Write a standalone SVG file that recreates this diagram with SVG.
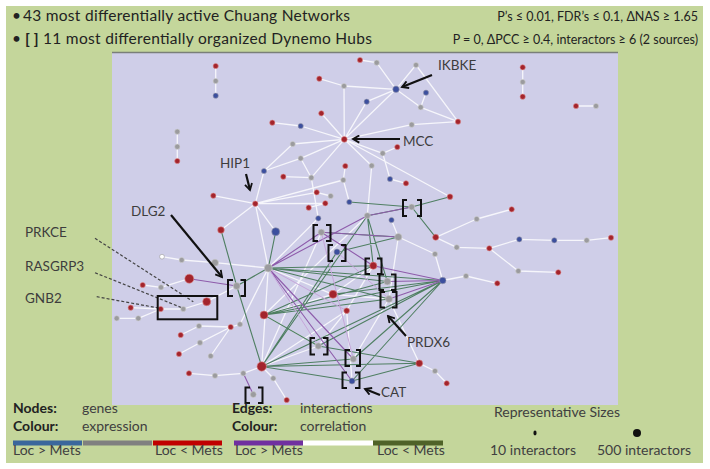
<svg xmlns="http://www.w3.org/2000/svg" width="710" height="469" viewBox="0 0 710 469">
<style>
text{font-family:Lato,"Liberation Sans",sans-serif;fill:#333}
.hd{font-size:15.5px;fill:#222}
.hs{font-size:12.5px;fill:#222}
.lb{font-size:13.5px;fill:#3d3d3d}
.lg{font-size:14px;fill:#404040}
.bd{font-weight:bold;fill:#222}
.w{stroke:#f6f6fb;stroke-width:1.3;fill:none}
.gr{stroke:#4f7f62;stroke-width:1.1;fill:none}
.p{stroke:#8e5cab;stroke-width:1.1;fill:none}
.lp{stroke:#c6a6da;stroke-width:1;fill:none}
.r{fill:#a3242c;stroke:#d88;stroke-width:0.6}
.g{fill:#9b9b9e;stroke:#ccc;stroke-width:0.6}
.b{fill:#3c4f9e;stroke:#99a;stroke-width:0.6}
.wn{fill:#fff;stroke:#999;stroke-width:0.6}
.br{stroke:#111;stroke-width:2;fill:none}
.ar{stroke:#111;stroke-width:2.2;fill:none;marker-end:url(#ah)}
.ds{stroke:#444;stroke-width:1.2;stroke-dasharray:3 2;fill:none}
</style>
<defs>
<marker id="ah" viewBox="0 0 10 10" refX="8" refY="5" markerWidth="9" markerHeight="9" markerUnits="userSpaceOnUse" orient="auto">
<path d="M1,1 L8,5 L1,9" stroke="#111" stroke-width="2" fill="none"/>
</marker>
</defs>
<rect x="0" y="0" width="710" height="469" fill="#fff"/>
<rect x="6" y="6" width="697" height="457" fill="#c4d69b"/>
<rect x="112" y="52" width="506" height="353" fill="#cfcee8"/>
<line x1="112" y1="52.5" x2="618" y2="52.5" stroke="#7a7f78" stroke-width="1.6"/>

<g id="header">
<text class="hd" x="12" y="21">•</text>
<text class="hd" x="23" y="21" textLength="327">43 most differentially active Chuang Networks</text>
<text class="hd" x="12" y="44">•</text>
<text class="hd bd" x="25" y="44">[ ]</text>
<text class="hd" x="43" y="44" textLength="329">11 most differentially organized Dynemo Hubs</text>
<text class="hs" x="698" y="21" text-anchor="end">P’s ≤ 0.01,  FDR’s ≤ 0.1, ΔNAS ≥ 1.65</text>
<text class="hs" x="698" y="44" text-anchor="end">P = 0, ΔPCC ≥ 0.4, interactors ≥ 6 (2 sources)</text>
</g>

<g id="connectors">
<path class="w" d="M215.7,66L215.7,95.7M177.3,131.7L177.3,161M522.7,67.3L522.7,96.7M576,106L596,106"/>
<path class="w" d="M360,60L376.7,62.7M376.7,62.7L396,89.3M416,65L396,89.3M416,65L458,121.7M396,89.3L420.7,107.3M426,92.7L420.7,107.3M420.7,107.3L458,121.7M411.7,124.7L458,121.7M411.7,124.7L344.3,139.3"/>
<path class="w" d="M319.3,78.7L344,86M344,86L396,89.3M366.7,101.7L396,89.3M344.3,139.3L344,86M344.3,139.3L396,89.3M344.3,139.3L366.7,101.7M344.3,139.3L321.3,113.3M344.3,139.3L300.7,126M300.7,126L272.3,122.7M344.3,139.3L292.7,144M292.7,144L264,171M344.3,139.3L300.7,158.3M300.7,158.3L264,171M264,171L255.3,203.7"/>
<path class="w" d="M283.3,176.7L311.3,177.7M311.3,177.7L344.3,139.3M311.3,177.7L318.3,218.3M345.3,166L343.3,180M343.3,180L349.3,202M344.3,139.3L371.7,165.7M371.7,165.7L367.3,215.7M344.3,139.3L382.7,153.3M382.7,153.3L397.3,147M344.3,139.3L450,196.7M390,179L406,183.3M382.7,153.3L390,179"/>
<path class="w" d="M255.3,203.7L213.3,195.7M255.3,203.7L343.3,180M255.3,203.7L316.7,192.3M255.3,203.7L325.3,203.3M316.7,192.3L330.7,196M308.7,207.7L325.3,203.3M255.3,203.7L221,230M255.3,203.7L275.7,231.7M255.3,203.7L268.3,268M300.7,158.3L311.3,177.7"/>
<path class="w" d="M511.7,209.3L476.7,219M476.7,219L435.7,237.3M435.7,237.3L456.7,247.3M456.7,247.3L489.3,248.3M489.3,248.3L519.3,239.3M519.3,239.3L554.3,240.3M554.3,240.3L586.7,240.3M586.7,240.3L611,237.7M489.3,248.3L518.3,271M518.3,271L558.3,272.3M398.3,237L435,254M435,254L442.7,280.5M442.7,280.5L466,276M466,276L497.3,283.3M389,299L419.3,363.3M419.3,363.3L435,371M435,371L446.7,383.3"/>
<path class="w" d="M162,256.7L181.7,260M181.7,260L215,262.7M215,262.7L268.3,268M142.7,285L161,287.3M161,287.3L189.3,278.7M130.7,307.7L160.7,309M116.7,318.3L138.3,318.3M138.3,318.3L160.7,309M160.7,309L183.3,309M183.3,309L206.7,301.7M206.7,301.7L236.7,286M180.7,335L199,326M199,326L230.7,327M230.7,327L240,324.3M230.7,327L200,342.7M200,342.7L179,354M230.7,327L210.7,356M189,373.3L215,375.7M215,375.7L243.3,373.3M243.3,373.3L261.7,366.5M240,324.3L268.3,268M261.7,366.5L273.3,378.3M273.3,378.3L286.7,400"/>
<path class="w" d="M261.7,366.5L268.3,268M268.3,268L333,294.3M264,315L333,294.3M333,294.3L373.3,265.7M346.7,310.7L373.3,265.7M261.7,366.5L346.7,310.7M333,294.3L389,299M318.3,346L346.7,310.7M352,381L346.7,310.7M318.3,218.3L268.3,268M391.5,220L398.3,237M398.3,237L389,299M261.7,366.5L321.3,232.3M264,315L367.3,215.7M353.3,359L389,299M264,315L318.3,346M261.7,366.5L318.3,346"/>
<path class="gr" d="M221,230L236.7,286M236.7,286L261.7,366.5M236.7,286L268.3,268M268.3,268L275.7,231.7M268.3,268L373.3,265.7M268.3,268L387.3,281.5M268.3,268L442.7,280.5M268.3,268L389,299M349.3,202L411.7,207M450,196.7L411.7,207M411.7,207L435.7,237.3M337,252L398.3,237M367.3,215.7L261.7,366.5M367.3,215.7L373.3,265.7M264,315L373.3,265.7M264,315L387.3,281.5M264,315L442.7,280.5M264,315L318.3,346M261.7,366.5L352,381M261.7,366.5L353.3,359M261.7,366.5L419.3,363.3M261.7,366.5L337,252M318.3,346L419.3,363.3M352,381L419.3,363.3M442.7,280.5L261.7,366.5M442.7,280.5L318.3,346M442.7,280.5L353.3,359M442.7,280.5L352,381M442.7,280.5L333,294.3M389,299L264,315M367.3,215.7L387.3,281.5M321.3,232.3L398.3,237M411.7,207L367.3,215.7"/>
<path class="p" d="M236.7,286L189.3,278.7M268.3,268L367.3,215.7M268.3,268L321.3,232.3M321.3,232.3L398.3,237M321.3,232.3L373.3,265.7M268.3,268L352,381M268.3,268L353.3,359M442.7,280.5L373.3,265.7M442.7,280.5L387.3,281.5M442.7,280.5L389,299M243.3,373.3L253.3,394.5M367.3,215.7L411.7,207"/>
<path class="lp" d="M268.3,268L318.3,346M268.3,268L346.7,310.7M321.3,232.3L353.3,359M337,252L389,299"/>
<path class="ds" d="M95,238.3L193.3,301.7M95,272.7L183.3,308.3M96.7,296.7L160,308.3"/>
</g>

<g id="nodes">
<g id="n1"><circle class="r" cx="215.7" cy="66" r="2.6"/></g>
<g id="n2"><circle class="g" cx="215.7" cy="81" r="2.6"/></g>
<g id="n3"><circle class="b" cx="215.7" cy="95.7" r="2.6"/></g>
<g id="n4"><circle class="g" cx="177.3" cy="131.7" r="2.6"/></g>
<g id="n5"><circle class="g" cx="177.3" cy="146.7" r="2.6"/></g>
<g id="n6"><circle class="r" cx="177.3" cy="161" r="2.6"/></g>
<g id="n7"><circle class="r" cx="522.7" cy="67.3" r="2.6"/></g>
<g id="n8"><circle class="g" cx="522.7" cy="82" r="2.6"/></g>
<g id="n9"><circle class="r" cx="522.7" cy="96.7" r="2.6"/></g>
<g id="n10"><circle class="r" cx="576" cy="106" r="2.6"/></g>
<g id="n11"><circle class="g" cx="596" cy="106" r="2.6"/></g>
<g id="a1"><circle class="r" cx="360" cy="60" r="2.6"/></g>
<g id="a2"><circle class="g" cx="376.7" cy="62.7" r="2.6"/></g>
<g id="IKBKE"><circle class="b" cx="396" cy="89.3" r="3.2"/></g>
<g id="a3"><circle class="g" cx="416" cy="65" r="2.6"/></g>
<g id="a4"><circle class="b" cx="426" cy="92.7" r="2.6"/></g>
<g id="a5"><circle class="g" cx="420.7" cy="107.3" r="2.6"/></g>
<g id="a6"><circle class="r" cx="458" cy="121.7" r="2.6"/></g>
<g id="a7"><circle class="g" cx="411.7" cy="124.7" r="2.6"/></g>
<g id="a8"><circle class="r" cx="319.3" cy="78.7" r="2.6"/></g>
<g id="a9"><circle class="g" cx="344" cy="86" r="2.6"/></g>
<g id="a10"><circle class="b" cx="366.7" cy="101.7" r="2.6"/></g>
<g id="MCC"><circle class="r" cx="344.3" cy="139.3" r="2.9"/></g>
<g id="a11"><circle class="r" cx="321.3" cy="113.3" r="2.6"/></g>
<g id="a12"><circle class="b" cx="300.7" cy="126" r="2.6"/></g>
<g id="a13"><circle class="r" cx="272.3" cy="122.7" r="2.6"/></g>
<g id="a14"><circle class="g" cx="292.7" cy="144" r="2.6"/></g>
<g id="a15"><circle class="g" cx="300.7" cy="158.3" r="2.6"/></g>
<g id="a16"><circle class="b" cx="264" cy="171" r="2.6"/></g>
<g id="a17"><circle class="r" cx="283.3" cy="176.7" r="2.6"/></g>
<g id="a18"><circle class="g" cx="311.3" cy="177.7" r="2.6"/></g>
<g id="a19"><circle class="r" cx="345.3" cy="166" r="2.6"/></g>
<g id="a20"><circle class="g" cx="343.3" cy="180" r="2.6"/></g>
<g id="a21"><circle class="r" cx="213.3" cy="195.7" r="2.6"/></g>
<g id="HIP1"><circle class="r" cx="255.3" cy="203.7" r="2.7"/></g>
<g id="a22"><circle class="r" cx="316.7" cy="192.3" r="2.6"/></g>
<g id="a23"><circle class="g" cx="330.7" cy="196" r="2.6"/></g>
<g id="a24"><circle class="r" cx="308.7" cy="207.7" r="2.6"/></g>
<g id="a25"><circle class="r" cx="325.3" cy="203.3" r="2.6"/></g>
<g id="a26"><circle class="b" cx="349.3" cy="202" r="2.6"/></g>
<g id="a27"><circle class="g" cx="371.7" cy="165.7" r="2.6"/></g>
<g id="a28"><circle class="g" cx="382.7" cy="153.3" r="2.6"/></g>
<g id="a29"><circle class="r" cx="397.3" cy="147" r="2.6"/></g>
<g id="a30"><circle class="b" cx="390" cy="179" r="2.6"/></g>
<g id="a31"><circle class="r" cx="406" cy="183.3" r="2.6"/></g>
<g id="a32"><circle class="r" cx="450" cy="196.7" r="2.8"/></g>
<g id="a33"><circle class="b" cx="318.3" cy="218.3" r="2.6"/></g>
<g id="a34"><circle class="g" cx="367.3" cy="215.7" r="3"/></g>
<g id="a35"><circle class="b" cx="391.5" cy="220" r="2.6"/></g>
<g id="a36"><circle class="g" cx="398.3" cy="237" r="3.6"/></g>
<g id="a37"><circle class="r" cx="511.7" cy="209.3" r="2.6"/></g>
<g id="a38"><circle class="g" cx="476.7" cy="219" r="2.6"/></g>
<g id="a39"><circle class="r" cx="435.7" cy="237.3" r="3"/></g>
<g id="a40"><circle class="g" cx="456.7" cy="247.3" r="2.6"/></g>
<g id="a41"><circle class="r" cx="489.3" cy="248.3" r="2.6"/></g>
<g id="a42"><circle class="b" cx="519.3" cy="239.3" r="2.6"/></g>
<g id="a43"><circle class="b" cx="554.3" cy="240.3" r="2.6"/></g>
<g id="a44"><circle class="g" cx="586.7" cy="240.3" r="2.6"/></g>
<g id="a45"><circle class="r" cx="611" cy="237.7" r="2.6"/></g>
<g id="a46"><circle class="g" cx="518.3" cy="271" r="2.6"/></g>
<g id="a47"><circle class="r" cx="558.3" cy="272.3" r="2.6"/></g>
<g id="a48"><circle class="g" cx="435" cy="254" r="2.6"/></g>
<g id="HUB"><circle class="b" cx="442.7" cy="280.5" r="3.3"/></g>
<g id="a49"><circle class="g" cx="466" cy="276" r="2.6"/></g>
<g id="a50"><circle class="r" cx="497.3" cy="283.3" r="2.6"/></g>
<g id="RL"><circle class="r" cx="221" cy="230" r="3.3"/></g>
<g id="BL"><circle class="b" cx="275.7" cy="231.7" r="4"/></g>
<g id="H"><circle class="g" cx="268.3" cy="268" r="4"/></g>
<g id="RB"><circle class="r" cx="333" cy="294.3" r="4"/></g>
<g id="r2"><circle class="r" cx="346.7" cy="310.7" r="2.8"/></g>
<g id="r3"><circle class="r" cx="264" cy="315" r="4"/></g>
<g id="R"><circle class="r" cx="261.7" cy="366.5" r="4.7"/></g>
<g id="g1"><circle class="g" cx="243.3" cy="373.3" r="2.6"/></g>
<g id="g2"><circle class="g" cx="273.3" cy="378.3" r="2.6"/></g>
<g id="r4"><circle class="r" cx="286.7" cy="400" r="2.6"/></g>
<g id="r5"><circle class="r" cx="419.3" cy="363.3" r="3.4"/></g>
<g id="g3"><circle class="g" cx="435" cy="371" r="2.6"/></g>
<g id="r6"><circle class="r" cx="446.7" cy="383.3" r="2.6"/></g>
<g id="w1"><circle class="wn" cx="162" cy="256.7" r="2.4"/></g>
<g id="l1"><circle class="g" cx="181.7" cy="260" r="2.6"/></g>
<g id="l2"><circle class="g" cx="215" cy="262.7" r="3.5"/></g>
<g id="l3"><circle class="r" cx="189.3" cy="278.7" r="4.5"/></g>
<g id="l4"><circle class="r" cx="142.7" cy="285" r="2.6"/></g>
<g id="l5"><circle class="g" cx="161" cy="287.3" r="2.6"/></g>
<g id="l6"><circle class="r" cx="206.7" cy="301.7" r="4"/></g>
<g id="l7"><circle class="g" cx="183.3" cy="309" r="2.6"/></g>
<g id="l8"><circle class="r" cx="160.7" cy="309" r="2.6"/></g>
<g id="l9"><circle class="r" cx="130.7" cy="307.7" r="2.6"/></g>
<g id="l10"><circle class="g" cx="116.7" cy="318.3" r="2.6"/></g>
<g id="l11"><circle class="g" cx="138.3" cy="318.3" r="2.6"/></g>
<g id="l12"><circle class="g" cx="199" cy="326" r="2.6"/></g>
<g id="l13"><circle class="r" cx="230.7" cy="327" r="2.6"/></g>
<g id="l14"><circle class="g" cx="240" cy="324.3" r="2.6"/></g>
<g id="l15"><circle class="r" cx="180.7" cy="335" r="2.6"/></g>
<g id="l16"><circle class="g" cx="200" cy="342.7" r="2.6"/></g>
<g id="l17"><circle class="r" cx="179" cy="354" r="2.6"/></g>
<g id="l18"><circle class="g" cx="210.7" cy="356" r="2.6"/></g>
<g id="l19"><circle class="r" cx="189" cy="373.3" r="2.6"/></g>
<g id="l20"><circle class="g" cx="215" cy="375.7" r="2.6"/></g>
<g id="B1"><circle class="g" cx="411.7" cy="207" r="3"/><path class="br" d="M407,200H403V216H407M417,200H421V216H417"/></g>
<g id="B2"><circle class="g" cx="321.3" cy="232.3" r="3.2"/><path class="br" d="M318,225H313.5V241H318M326,225H330.5V241H326"/></g>
<g id="B3"><circle class="b" cx="337" cy="252" r="3"/><path class="br" d="M333,245H328.5V261H333M341,245H345.5V261H341"/></g>
<g id="B4"><circle class="r" cx="373.3" cy="265.7" r="3.6"/><path class="br" d="M370,258.5H365.5V274H370M377,258.5H381.5V274H377"/></g>
<g id="B5"><circle class="g" cx="387.3" cy="281.5" r="3.5"/><path class="br" d="M384,274.5H379.5V290H384M391,274.5H395.5V290H391"/></g>
<g id="B6"><circle class="g" cx="389" cy="299" r="3.5"/><path class="br" d="M385,292H380.5V307.5H385M392,292H396.5V307.5H392"/></g>
<g id="DLG2"><circle class="g" cx="236.7" cy="286" r="3.5"/><path class="br" d="M233,280H228V296H233M240.5,280H245V296H240.5"/></g>
<g id="B7"><circle class="g" cx="318.3" cy="346" r="3.2"/><path class="br" d="M315,338H310.5V354.5H315M323,338H327.5V354.5H323"/></g>
<g id="B8"><circle class="g" cx="353.3" cy="359" r="3.2"/><path class="br" d="M350,350H345.5V366H350M356,350H360V366H356"/></g>
<g id="CAT"><circle class="b" cx="352" cy="381" r="3"/><path class="br" d="M347,372.5H342.5V388H347M355,372.5H359.5V388H355"/></g>
<g id="B10"><circle class="g" cx="253.3" cy="394.5" r="3"/><path class="br" d="M250,387.5H245.5V403H250M258,387.5H262.5V403H258"/></g>
</g>

<g id="box"><rect x="157.7" y="296" width="59.6" height="23.3" fill="none" stroke="#111" stroke-width="2"/></g>

<g id="labels">
<text class="lb" x="438" y="70">IKBKE</text>
<path class="ar" d="M432,75L402,87"/>
<text class="lb" x="403" y="146">MCC</text>
<path class="ar" d="M400,139L353,139"/>
<text class="lb" x="220" y="168">HIP1</text>
<path class="ar" d="M246,174L250,190"/>
<text class="lb" x="131" y="216">DLG2</text>
<path class="ar" d="M171,215L222,277"/>
<text class="lb" x="407" y="347">PRDX6</text>
<path class="ar" d="M406,336L388,316"/>
<text class="lb" x="381" y="397">CAT</text>
<path class="ar" d="M380,395L365,389"/>
<text class="lb" x="25" y="237">PRKCE</text>
<text class="lb" x="25" y="271">RASGRP3</text>
<text class="lb" x="25" y="303">GNB2</text>
</g>

<g id="legend">
<text class="lg bd" x="13" y="413">Nodes:</text>
<text class="lg" x="82" y="413">genes</text>
<text class="lg bd" x="13" y="431">Colour:</text>
<text class="lg" x="82" y="431">expression</text>
<rect x="13" y="440.5" width="69" height="5" fill="#3b679c"/>
<rect x="83" y="440.5" width="69" height="5" fill="#808080"/>
<rect x="153" y="440.5" width="69" height="5" fill="#c00000"/>
<text class="lg" x="13" y="455">Loc &gt; Mets</text>
<text class="lg" x="155" y="455">Loc &lt; Mets</text>
<text class="lg bd" x="232" y="413">Edges:</text>
<text class="lg" x="300" y="413">interactions</text>
<text class="lg bd" x="232" y="431">Colour:</text>
<text class="lg" x="300" y="431">correlation</text>
<rect x="234" y="440.5" width="69" height="5" fill="#7030a0"/>
<rect x="303" y="440.5" width="70" height="5" fill="#ffffff"/>
<rect x="373" y="440.5" width="70" height="5" fill="#4f6228"/>
<text class="lg" x="235" y="455">Loc &gt; Mets</text>
<text class="lg" x="377" y="455">Loc &lt; Mets</text>
<text class="lg" x="494" y="417">Representative Sizes</text>
<ellipse cx="535" cy="433" rx="1.6" ry="2.4" fill="#111"/>
<circle cx="637" cy="433" r="4" fill="#111"/>
<text class="lg" x="490" y="455">10 interactors</text>
<text class="lg" x="597" y="455">500 interactors</text>
</g>
</svg>
